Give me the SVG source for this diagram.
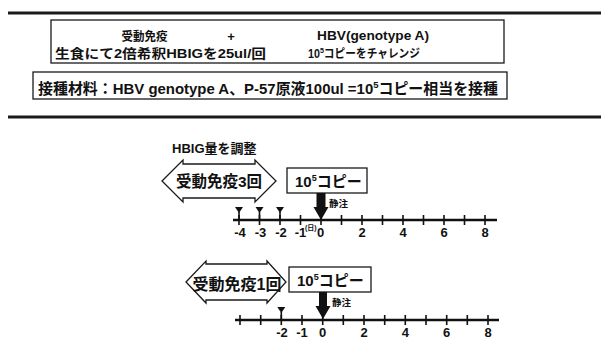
<svg xmlns="http://www.w3.org/2000/svg" width="601" height="361" viewBox="0 0 601 361">
<defs>
<style>
text{font-family:"Liberation Sans","Noto Sans CJK JP",sans-serif;font-weight:bold;fill:#111}
.box{fill:#fff;stroke:#1a1a1a;stroke-width:1.3}
.rule{stroke:#1a1a1a;stroke-width:3}
.axis{stroke:#111;stroke-width:2.6;fill:none}
.tick{stroke:#111;stroke-width:1.6;fill:none}
.dbl{fill:#fff;stroke:#1a1a1a;stroke-width:1.3;stroke-linejoin:miter}
.lab{font-size:13px;text-anchor:middle}
.tri{fill:#111}
.inj{fill:#111}
</style>
</defs>
<rect width="601" height="361" fill="#fff"/>
<g id="header">
<line class="rule" x1="8" y1="13" x2="601" y2="13"/>
<line class="rule" x1="8" y1="117" x2="601" y2="117"/>
</g>
<g id="box-protocol">
<rect class="box" x="51" y="20" width="453" height="43"/>
<text x="121.5" y="41" font-size="12.5" textLength="46" lengthAdjust="spacingAndGlyphs">受動免疫</text>
<text x="231" y="41" font-size="13" text-anchor="middle">+</text>
<text x="317" y="40" font-size="12.5" textLength="112" lengthAdjust="spacingAndGlyphs">HBV(genotype A)</text>
<text x="55" y="58" font-size="13" textLength="211" lengthAdjust="spacingAndGlyphs">生食にて2倍希釈HBIGを25ul/回</text>
<text x="308" y="58" font-size="12" textLength="112" lengthAdjust="spacingAndGlyphs">10<tspan font-size="8" dy="-5">5</tspan><tspan dy="5">コピーをチャレンジ</tspan></text>
</g>
<g id="box-material">
<rect class="box" x="33" y="72" width="474" height="27"/>
<text x="38" y="94" font-size="15" textLength="460" lengthAdjust="spacingAndGlyphs">接種材料：HBV genotype A、P-57原液100ul =10<tspan font-size="9.5" dy="-6">5</tspan><tspan dy="6">コピー相当を接種</tspan></text>
</g>
<g id="title-hbig">
<text x="172" y="153" font-size="13">HBIG量を調整</text>
</g>
<g id="passive3">
<path class="dbl" d="M162,181 L183,160 L183,164 L255,164 L255,160 L276,181 L255,202 L255,198 L183,198 L183,202 Z"/>
<text x="219" y="187" font-size="15.5" text-anchor="middle">受動免疫3回</text>
</g>
<g id="copy1">
<rect class="box" x="287" y="168" width="80" height="25" stroke-width="1.6"/>
<text x="295" y="187" font-size="15">10<tspan font-size="9" dy="-6">5</tspan><tspan dy="6">コピー</tspan></text>
</g>
<g id="timeline1">
<line class="axis" x1="233" y1="220" x2="497" y2="220"/>
<path class="tick" d="M239,215V225M259.5,215V225M280,215V225M300.5,215V225M321,215V225M341.5,215V225M362,215V225M382.5,215V225M403,215V225M423.5,215V225M444,215V225M464.5,215V225M485,215V225"/>
<path class="tri" d="M235,207H243L239,213ZM255.5,207H263.5L259.5,213ZM276,207H284L280,213Z"/>
<path class="tick" d="M239,212V220M259.5,212V220M280,212V220"/>
<text class="lab" x="240" y="237">-4</text>
<text class="lab" x="260.5" y="237">-3</text>
<text class="lab" x="281" y="237">-2</text>
<text class="lab" x="300.5" y="237">-1</text>
<text x="305" y="230" font-size="7">(日)</text>
<text class="lab" x="320.5" y="237">0</text>
<text class="lab" x="362" y="237">2</text>
<text class="lab" x="403" y="237">4</text>
<text class="lab" x="444" y="237">6</text>
<text class="lab" x="485" y="237">8</text>
</g>
<g id="passive1">
<path class="dbl" d="M186,282 L206,261 L206,264 L267,264 L267,261 L286,282 L267,303 L267,300 L206,300 L206,303 Z"/>
<text x="237" y="290" font-size="16" text-anchor="middle">受動免疫1回</text>
</g>
<g id="copy2">
<rect class="box" x="289" y="267" width="82" height="25" stroke-width="1.6"/>
<text x="297" y="286" font-size="15">10<tspan font-size="9" dy="-6">5</tspan><tspan dy="6">コピー</tspan></text>
</g>
<g id="timeline2">
<line class="axis" x1="235" y1="320" x2="499" y2="320"/>
<path class="tick" d="M240,315V325M260.7,315V325M281.3,315V325M302,315V325M322.7,315V325M343.3,315V325M364,315V325M384.7,315V325M405.3,315V325M426,315V325M446.7,315V325M467.3,315V325M488,315V325"/>
<path class="tri" d="M277.3,307H285.3L281.3,313Z"/>
<path class="tick" d="M281.3,312V320"/>
<text class="lab" x="282" y="337">-2</text>
<text class="lab" x="302" y="337">-1</text>
<text class="lab" x="322.7" y="337">0</text>
<text class="lab" x="364" y="337">2</text>
<text class="lab" x="405.3" y="337">4</text>
<text class="lab" x="446.7" y="337">6</text>
<text class="lab" x="488" y="337">8</text>
</g>
<g id="connectors">
<path class="inj" d="M316.5,193H325.5V207H328.5L321,220L313.5,207H316.5Z"/>
<text x="329" y="207" font-size="9.5">静注</text>
<path class="inj" d="M319,292H327V306H330.5L323,319L315.5,306H319Z"/>
<text x="332" y="306" font-size="9.5">静注</text>
</g>
</svg>
